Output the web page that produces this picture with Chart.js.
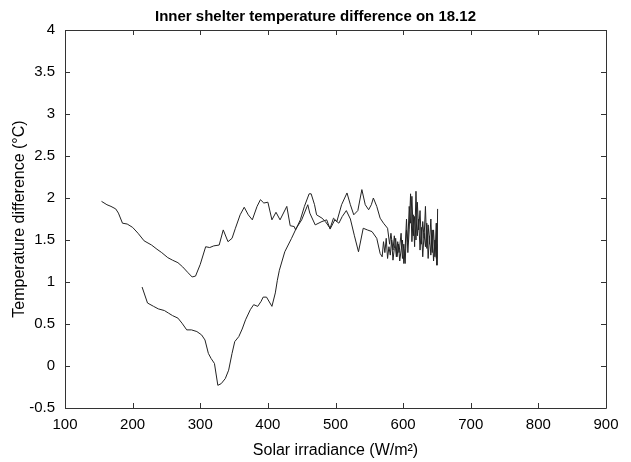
<!DOCTYPE html>
<html>
<head>
<meta charset="utf-8">
<script src="https://cdn.jsdelivr.net/npm/chart.js@4/dist/chart.umd.min.js"></script>
<style>
  html, body { margin: 0; padding: 0; background: #fff; }
  #wrap { width: 631px; height: 462px; }
</style>
</head>
<body>
<div id="wrap"><canvas id="c" width="631" height="462"></canvas></div>
<script>
/* ---- Datos ---- */
const upperX = [154, 162, 168, 175, 179, 185, 192, 200, 208, 217, 228, 236, 243, 252, 259, 267, 274, 282, 288, 293,
  300, 308, 314, 320, 328, 334, 341, 347, 352, 359, 365, 371, 377, 384, 389, 394, 400, 406, 412, 418,
  428, 433, 439, 441, 448, 454, 461, 464, 469, 472, 480, 485, 492, 497, 502, 509, 517, 522, 527, 533,
  539, 544, 549, 553, 556, 561, 566, 571, 577, 580, 582, 585, 587, 590, 592, 594, 597, 599, 601, 603,
  605, 607, 609, 611, 613, 615, 617, 619, 621, 623, 625, 627, 629, 631, 633, 635, 637, 639, 641, 643,
  645, 647, 649, 650, 651];
const upperY = [1.96, 1.92, 1.90, 1.87, 1.82, 1.70, 1.69, 1.65, 1.58, 1.49, 1.44, 1.39, 1.35, 1.29, 1.26, 1.23, 1.18, 1.11, 1.06, 1.07,
  1.21, 1.42, 1.41, 1.43, 1.44, 1.62, 1.48, 1.52, 1.64, 1.80, 1.89, 1.80, 1.74, 1.90, 1.98, 1.94, 1.95, 1.74, 1.83, 1.74,
  1.90, 1.67, 1.66, 1.62, 1.74, 1.90, 2.05, 2.05, 1.92, 1.80, 1.76, 1.72, 1.64, 1.76, 1.72, 1.92, 2.06, 1.92, 1.80, 1.85,
  2.10, 1.92, 1.86, 1.92, 2.00, 1.90, 1.76, 1.70, 1.64, 1.45, 1.58, 1.38, 1.55, 1.30, 1.48, 1.35, 1.58, 1.28, 1.45, 1.22,
  1.62, 1.48, 1.90, 1.70, 2.02, 1.55, 1.78, 1.50, 1.95, 1.62, 1.85, 1.45, 1.72, 1.52, 1.90, 1.40, 1.68, 1.45, 1.75, 1.35,
  1.62, 1.30, 1.70, 1.20, 1.87];

const lowerX = [214, 222, 231, 238, 247, 253, 259, 267, 273, 280, 287, 295, 302, 307, 312, 316, 321, 326, 331, 337,
  342, 347, 351, 357, 362, 367, 374, 379, 385, 390, 393, 398, 406, 411, 414, 417, 425, 435, 442, 450,
  459, 462, 470, 480, 487, 492, 499, 505, 510, 516, 522, 528, 534, 541, 547, 554, 561, 566, 569, 571,
  573, 575, 577, 579, 581, 583, 585, 587, 589, 591, 593, 595, 597, 599, 601, 603, 605, 607, 609, 611,
  613, 615, 617, 619, 621, 623, 625, 627, 629, 631, 633, 635, 637, 639, 641, 643, 645, 647, 649, 650];
const lowerY = [0.94, 0.75, 0.71, 0.68, 0.66, 0.63, 0.60, 0.57, 0.51, 0.43, 0.43, 0.41, 0.37, 0.31, 0.15, 0.09, 0.03, -0.23, -0.21, -0.15,
  -0.05, 0.15, 0.29, 0.35, 0.44, 0.55, 0.67, 0.73, 0.71, 0.77, 0.82, 0.82, 0.71, 0.87, 1.02, 1.14, 1.36, 1.52, 1.64, 1.74,
  1.92, 1.82, 1.68, 1.72, 1.74, 1.63, 1.74, 1.70, 1.78, 1.85, 1.75, 1.55, 1.36, 1.64, 1.62, 1.60, 1.52, 1.34, 1.30, 1.48,
  1.35, 1.52, 1.28, 1.42, 1.32, 1.50, 1.26, 1.40, 1.52, 1.30, 1.45, 1.25, 1.38, 1.50, 1.22, 1.40, 1.75, 1.35, 1.62, 2.05,
  1.48, 1.80, 1.42, 2.08, 1.55, 1.75, 1.38, 1.65, 1.30, 1.58, 1.42, 1.70, 1.28, 1.55, 1.32, 1.62, 1.25, 1.50, 1.28, 1.45];

const xTicks = [100, 200, 300, 400, 500, 600, 700, 800, 900];
const yTicks = [-0.5, 0, 0.5, 1, 1.5, 2, 2.5, 3, 3.5, 4];

const FONT = '"Liberation Sans", Arial, sans-serif';
const INK = '#222';

function toPoints(xs, ys) {
  return xs.map((x, i) => ({ x: x, y: ys[i] }));
}

/* ---- Caja estilo MATLAB con ticks hacia dentro ---- */
const boxTicks = {
  id: 'boxTicks',
  afterDraw(chart) {
    const { ctx, chartArea: a, scales } = chart;
    const len = 5;
    ctx.save();
    ctx.strokeStyle = '#333';
    ctx.lineWidth = 1;
    ctx.beginPath();
    ctx.rect(Math.round(a.left) + 0.5, Math.round(a.top) + 0.5,
      Math.round(a.right - a.left), Math.round(a.bottom - a.top));
    xTicks.forEach(v => {
      const px = Math.round(scales.x.getPixelForValue(v)) + 0.5;
      ctx.moveTo(px, a.bottom); ctx.lineTo(px, a.bottom - len);
      ctx.moveTo(px, a.top); ctx.lineTo(px, a.top + len);
    });
    yTicks.forEach(v => {
      const py = Math.round(scales.y.getPixelForValue(v)) + 0.5;
      ctx.moveTo(a.left, py); ctx.lineTo(a.left + len, py);
      ctx.moveTo(a.right, py); ctx.lineTo(a.right - len, py);
    });
    ctx.stroke();
    ctx.restore();
  }
};

const lineStyle = {
  borderColor: INK,
  borderWidth: 1,
  pointRadius: 0,
  tension: 0,
  fill: false,
};

new Chart(document.getElementById('c').getContext('2d'), {
  type: 'line',
  data: {
    datasets: [
      { label: 'upper', data: toPoints(upperX, upperY), ...lineStyle },
      { label: 'lower', data: toPoints(lowerX, lowerY), ...lineStyle },
    ],
  },
  options: {
    responsive: false,
    animation: false,
    layout: { padding: 0 },
    plugins: {
      legend: { display: false },
      tooltip: { enabled: false },
      title: {
        display: true,
        text: 'Inner shelter temperature difference on 18.12',
        color: '#000',
        font: { family: FONT, size: 15, weight: 'bold' },
        padding: { top: 8, bottom: 4 },
      },
    },
    scales: {
      x: {
        type: 'linear',
        min: 100, max: 900,
        afterBuildTicks: s => { s.ticks = xTicks.map(v => ({ value: v })); },
        afterFit: s => { s.height = 54; },
        grid: { display: false, drawTicks: false },
        border: { display: false },
        ticks: { color: '#000', font: { family: FONT, size: 15 }, padding: 8, maxRotation: 0 },
        title: {
          display: true,
          text: 'Solar irradiance (W/m²)',
          color: '#000',
          font: { family: FONT, size: 16 },
          padding: { top: 0, bottom: 2 },
        },
      },
      y: {
        type: 'linear',
        min: -0.5, max: 4,
        afterBuildTicks: s => { s.ticks = yTicks.map(v => ({ value: v })); },
        afterFit: s => { s.width = 65; },
        grid: { display: false, drawTicks: false },
        border: { display: false },
        ticks: { color: '#000', font: { family: FONT, size: 15 }, padding: 10, callback: v => String(v) },
        title: {
          display: true,
          text: 'Temperature difference (°C)',
          color: '#000',
          font: { family: FONT, size: 16 },
          padding: { top: 10, bottom: 0 },
        },
      },
      // margen derecho vacío (el título queda centrado en el lienzo)
      yRight: {
        type: 'linear',
        position: 'right',
        min: -0.5, max: 4,
        afterFit: s => { s.width = 25; },
        grid: { display: false, drawTicks: false },
        border: { display: false },
        ticks: { display: false },
      },
    },
  },
  plugins: [boxTicks],
});
</script>
</body>
</html>
